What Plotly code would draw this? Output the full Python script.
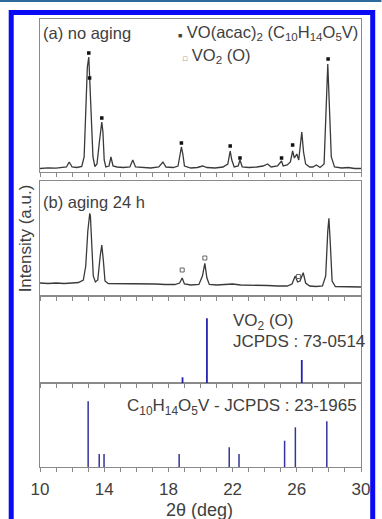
import plotly.graph_objects as go

# ---------------- data ----------------
# (a) no aging : 2theta (deg) and intensity (a.u.)
a_tt = [10.0, 10.5, 11.0, 11.4, 11.65, 11.82, 12.0, 12.3, 12.6, 12.75, 12.85, 12.95, 13.04, 13.08,
        13.12, 13.2, 13.3, 13.42, 13.55, 13.7, 13.8, 13.85, 13.92, 14.0, 14.1, 14.3, 14.42, 14.55,
        14.8, 15.2, 15.6, 15.78, 15.95, 16.4, 16.9, 17.4, 17.66, 17.85, 18.3, 18.6, 18.72, 18.81,
        18.9, 19.0, 19.4, 19.8, 20.13, 20.4, 20.9, 21.4, 21.7, 21.85, 21.95, 22.1, 22.35, 22.46,
        22.6, 23.0, 23.5, 23.9, 24.18, 24.4, 24.8, 24.95, 25.05, 25.15, 25.4, 25.6, 25.74, 25.85,
        26.0, 26.12, 26.22, 26.31, 26.42, 26.55, 26.8, 27.0, 27.22, 27.45, 27.7, 27.82, 27.93,
        28.02, 28.15, 28.35, 28.8, 29.2, 29.6, 30.0]
a_int = [3.5, 4.2, 3.8, 4.5, 5, 10, 5, 4.5, 5.5, 15, 60, 105, 115, 98,
         94, 60, 15, 5.5, 8, 30, 48, 50, 40, 12, 5, 6, 15, 6,
         5, 4.5, 5, 12, 5, 4.5, 4, 5, 10, 5, 4.5, 6, 18, 25,
         18, 6, 4, 4.5, 6, 4.5, 4, 5, 8, 21, 12, 5, 6, 12,
         5, 4.5, 5, 6, 8, 5, 6, 9, 11, 6, 7, 10, 21, 14,
         18, 12, 25, 40, 20, 8, 5, 5, 7, 4.5, 8, 60, 108,
         70, 15, 5, 4, 4.5, 3.5, 3.5]
# VO(acac)2 markers in (a)
a_mark_tt = [13.04, 13.09, 13.85, 18.81, 21.85, 22.46, 25.05, 25.74, 27.95]
a_mark_int = [119, 94, 54, 29, 26, 14, 14, 27, 113]

# (b) aging 24 h
b_tt = [10.0, 10.5, 11.0, 11.5, 12.0, 12.4, 12.7, 12.85, 12.98, 13.1, 13.14, 13.22, 13.32, 13.45,
        13.6, 13.75, 13.85, 13.95, 14.05, 14.25, 14.8, 15.4, 16.0, 16.6, 17.2, 17.8, 18.4, 18.7,
        18.86, 19.0, 19.4, 19.9, 20.12, 20.27, 20.4, 20.55, 21.0, 21.5, 22.0, 22.5, 23.0, 23.6,
        24.2, 24.8, 25.4, 25.7, 25.9, 26.05, 26.2, 26.4, 26.55, 26.8, 27.2, 27.6, 27.8, 27.93,
        28.0, 28.08, 28.2, 28.4, 29.0, 29.5, 30.0]
b_int = [13, 12.5, 13, 12.5, 13, 13.5, 16, 30, 65, 82.7, 80, 55, 20, 14,
         16, 40, 51, 35, 15, 12.5, 12.5, 12, 12.5, 12, 12, 11.5, 11.5, 13,
         18, 12, 11, 11.5, 20, 32.7, 18, 11.5, 11, 11.5, 12, 11, 11, 10.5,
         10.5, 10, 10, 12, 20, 14, 15, 23.3, 13, 10, 9.5, 10, 20, 65,
         77.7, 55, 15, 9.5, 9.5, 9, 9]
# VO2 (O) markers in (b)
b_mark_tt = [18.86, 20.27, 26.1]
b_mark_int = [26, 38, 19.5]

# reference sticks
vo2_tt = [18.88, 20.40, 26.31]
vo2_int = [5.7, 64.7, 23]
acac_tt = [13.0, 13.69, 13.99, 18.67, 21.79, 22.40, 25.24, 25.91, 27.87]
acac_int = [65.7, 13, 13, 13, 19.7, 13, 26.3, 39.7, 45.7]

tick_vals = list(range(10, 31))
tick_text = [str(v) if (v - 10) % 4 == 0 else "" for v in tick_vals]


def sticks(tt, ii):
    xs, ys = [], []
    for t, i in zip(tt, ii):
        xs += [t, t, None]
        ys += [0, i, None]
    return xs, ys


LINE = "#3a3a3a"
AX = "#8a8a8a"
TXT = "#404040"
STICK = "#34349a"

fig = go.Figure()
fig.add_trace(go.Scatter(x=a_tt, y=a_int, mode="lines", line=dict(color=LINE, width=1.3),
                         xaxis="x4", yaxis="y4", showlegend=False))
fig.add_trace(go.Scatter(x=a_mark_tt, y=a_mark_int, mode="markers",
                         marker=dict(symbol="square", size=3.5, color="#111111"),
                         xaxis="x4", yaxis="y4", showlegend=False))
fig.add_trace(go.Scatter(x=b_tt, y=b_int, mode="lines", line=dict(color=LINE, width=1.3),
                         xaxis="x3", yaxis="y3", showlegend=False))
fig.add_trace(go.Scatter(x=b_mark_tt, y=b_mark_int, mode="markers",
                         marker=dict(symbol="square-open", size=4, color="#666666",
                                     line=dict(width=1)),
                         xaxis="x3", yaxis="y3", showlegend=False))
sx, sy = sticks(vo2_tt, vo2_int)
fig.add_trace(go.Scatter(x=sx, y=sy, mode="lines", line=dict(color="#2323b0", width=1.8),
                         xaxis="x2", yaxis="y2", showlegend=False))
sx, sy = sticks(acac_tt, acac_int)
fig.add_trace(go.Scatter(x=sx, y=sy, mode="lines", line=dict(color=STICK, width=1.5),
                         xaxis="x", yaxis="y", showlegend=False))

FONT = "Liberation Sans, Arial, sans-serif"

xcommon = dict(range=[10, 30], showline=True, linecolor=AX, linewidth=1.2, mirror=True,
               ticks="outside", ticklen=4, tickwidth=1, tickcolor=AX, showgrid=False,
               zeroline=False, tickmode="array", tickvals=tick_vals)
ycommon = dict(showline=True, linecolor=AX, linewidth=1.2, mirror=True, showticklabels=False,
               ticks="", showgrid=False, zeroline=False, fixedrange=True)

L, R, T, B = 40, 13, 19, 52
H, W = 519, 382
PH = H - T - B


def py(p):  # pixel y -> paper
    return (H - B - p) / PH


def px(p):
    return (p - L) / (W - L - R)


fig.update_layout(
    width=W, height=H, margin=dict(l=L, r=R, t=T, b=B),
    paper_bgcolor="white", plot_bgcolor="white",
    font=dict(family=FONT, color=TXT),
    xaxis=dict(**xcommon, anchor="y", ticktext=tick_text, showticklabels=True,
               ticklabelstandoff=2,
               tickfont=dict(size=17, color=TXT, family=FONT)),
    xaxis2=dict(**xcommon, anchor="y2", matches="x", showticklabels=False),
    xaxis3=dict(**xcommon, anchor="y3", matches="x", showticklabels=False),
    xaxis4=dict(**xcommon, anchor="y4", matches="x", showticklabels=False),
    yaxis=dict(**ycommon, domain=[0, py(383)], range=[0, 84]),
    yaxis2=dict(**ycommon, domain=[py(383), py(296)], range=[0, 87]),
    yaxis3=dict(**ycommon, domain=[py(296), py(181)], range=[0, 115]),
    yaxis4=dict(**ycommon, domain=[py(172), 1], range=[0, 153]),
)

ann = []


def add_text(text, x, y, xanchor="left", size=16.5, angle=0):
    ann.append(dict(text=text, x=px(x), y=py(y), xref="paper", yref="paper", xanchor=xanchor,
                    yanchor="middle", showarrow=False, textangle=angle,
                    font=dict(size=size, color=TXT, family=FONT)))


add_text("(a) no aging", 41, 33)
add_text("<span style='font-size:7px'>■</span> VO(acac)<sub>2</sub> (C<sub>10</sub>H<sub>14</sub>O<sub>5</sub>V)",
         368, 33, xanchor="right")
add_text("<span style='font-size:7px'>□</span> VO<sub>2</sub> (O)", 185, 56)
add_text("(b) aging 24 h", 41, 202)
add_text("VO<sub>2</sub> (O)", 236, 322, size=17)
add_text("JCPDS : 73-0514", 236, 341, size=17)
add_text("C<sub>10</sub>H<sub>14</sub>O<sub>5</sub>V - JCPDS : 23-1965", 367, 407,
         xanchor="right", size=17)
add_text("Intensity (a.u.)", 25, 238, xanchor="center", size=17, angle=-90)
add_text("2θ (deg)", 203, 510, xanchor="center", size=18)
fig.update_layout(annotations=ann)

# page decoration: top rule and blue frame
shapes = [
    dict(type="rect", xref="paper", yref="paper", x0=px(-5), x1=px(390), y0=py(2), y1=py(-2),
         fillcolor="#2b6a9a", line=dict(width=0), layer="above"),
    dict(type="rect", xref="paper", yref="paper", x0=px(10.5), x1=px(381), y0=py(560),
         y1=py(12.5), fillcolor="rgba(0,0,0,0)", line=dict(color="#0a0af5", width=5),
         layer="above"),
]
fig.update_layout(shapes=shapes)

fig.write_html("out.html")
